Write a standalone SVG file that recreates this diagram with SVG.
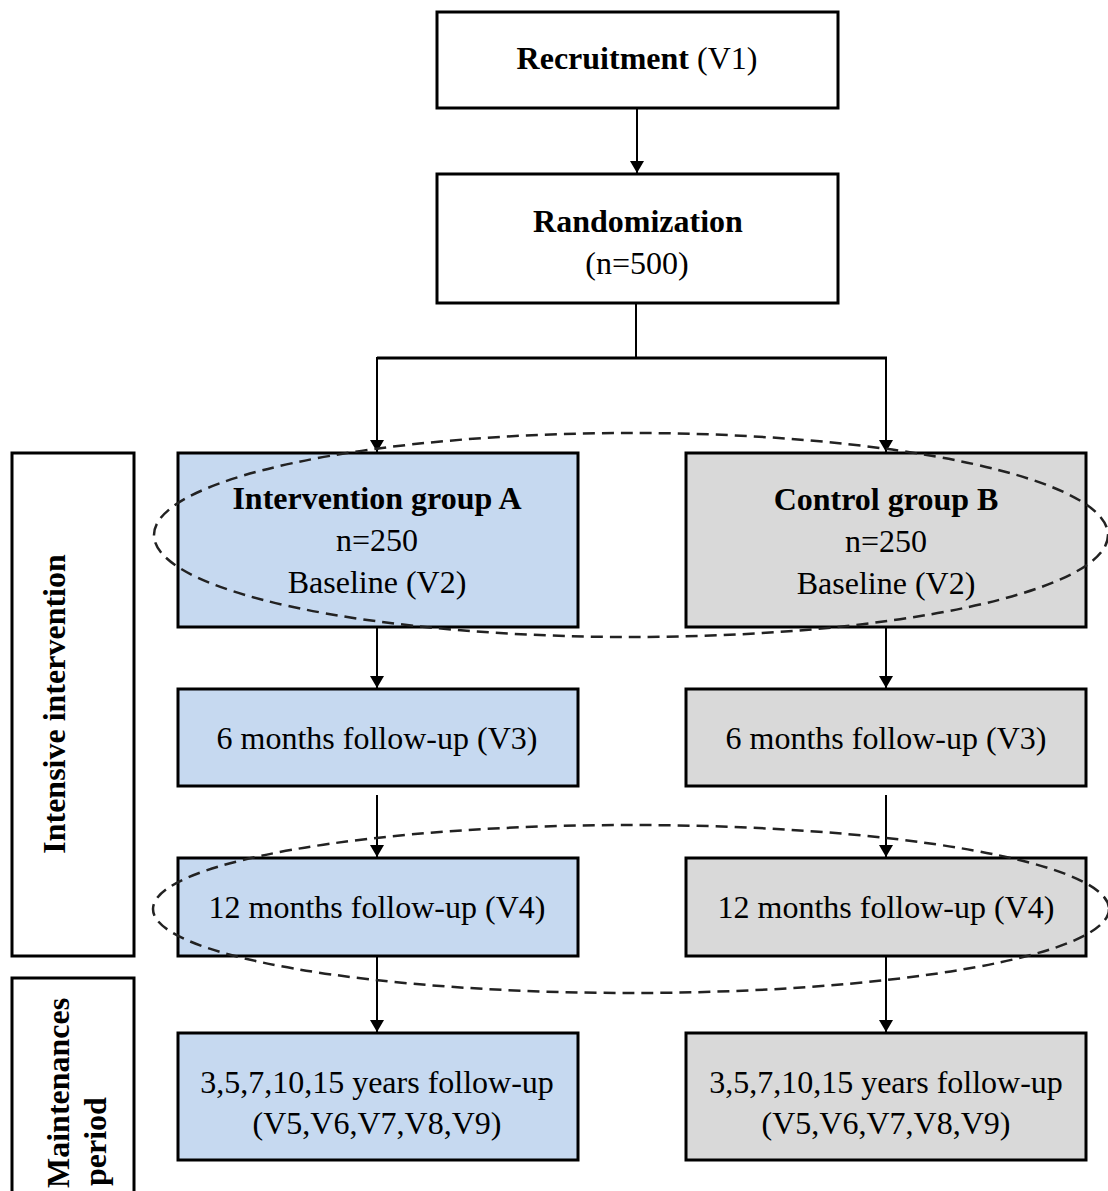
<svg xmlns="http://www.w3.org/2000/svg" width="1108" height="1191" viewBox="0 0 1108 1191">
<defs>
<style>
.box{stroke:#000;stroke-width:3}
.w{fill:#fff}
.a{fill:#C6D9F0}
.b{fill:#D9D9D9}
.t{font-family:"Liberation Serif","Times New Roman",serif;font-size:32px;fill:#000;text-anchor:middle}
.bd{font-weight:bold}
.ln{stroke:#000;stroke-width:2;fill:none}
.el{stroke:#222;stroke-width:2.5;fill:none;stroke-dasharray:12 7}
</style>
<marker id="ah" viewBox="0 0 12 14" refX="12" refY="7" markerWidth="12" markerHeight="14" markerUnits="userSpaceOnUse" orient="auto">
<path d="M0,0 L12,7 L0,14 Z" fill="#000"/>
</marker>
</defs>
<rect width="1108" height="1191" fill="#fff"/>

<g id="label-intensive">
<rect class="box w" x="12" y="453" width="122" height="503"/>
<text class="t bd" transform="translate(65,704) rotate(-90)">Intensive intervention</text>
</g>
<g id="label-maintenance">
<rect class="box w" x="12" y="978" width="122" height="230"/>
<text class="t bd" style="text-anchor:start" transform="translate(69,1188) rotate(-90)">Maintenances</text>
<text class="t bd" style="text-anchor:start" transform="translate(106,1186) rotate(-90)">period</text>
</g>

<g id="recruitment">
<rect class="box w" x="437" y="12" width="401" height="96"/>
<text class="t" x="637" y="69"><tspan class="bd">Recruitment</tspan> (V1)</text>
</g>
<g id="randomization">
<rect class="box w" x="437" y="174" width="401" height="129"/>
<text class="t bd" x="638" y="232">Randomization</text>
<text class="t" x="637" y="274">(n=500)</text>
</g>

<g id="groupA">
<rect class="box a" x="178" y="453" width="400" height="174"/>
<text class="t bd" x="377" y="509">Intervention group A</text>
<text class="t" x="377" y="551">n=250</text>
<text class="t" x="377" y="593">Baseline (V2)</text>
</g>
<g id="groupB">
<rect class="box b" x="686" y="453" width="400" height="174"/>
<text class="t bd" x="886" y="510">Control group B</text>
<text class="t" x="886" y="552">n=250</text>
<text class="t" x="886" y="594">Baseline (V2)</text>
</g>

<g id="A-6m">
<rect class="box a" x="178" y="689" width="400" height="97"/>
<text class="t" x="377" y="749">6 months follow-up (V3)</text>
</g>
<g id="B-6m">
<rect class="box b" x="686" y="689" width="400" height="97"/>
<text class="t" x="886" y="749">6 months follow-up (V3)</text>
</g>

<g id="A-12m">
<rect class="box a" x="178" y="858" width="400" height="98"/>
<text class="t" x="377" y="918">12 months follow-up (V4)</text>
</g>
<g id="B-12m">
<rect class="box b" x="686" y="858" width="400" height="98"/>
<text class="t" x="886" y="918">12 months follow-up (V4)</text>
</g>

<g id="A-years">
<rect class="box a" x="178" y="1033" width="400" height="127"/>
<text class="t" x="377" y="1093">3,5,7,10,15 years follow-up</text>
<text class="t" x="377" y="1134">(V5,V6,V7,V8,V9)</text>
</g>
<g id="B-years">
<rect class="box b" x="686" y="1033" width="400" height="127"/>
<text class="t" x="886" y="1093">3,5,7,10,15 years follow-up</text>
<text class="t" x="886" y="1134">(V5,V6,V7,V8,V9)</text>
</g>

<g id="connectors">
<line class="ln" x1="637" y1="108" x2="637" y2="173" marker-end="url(#ah)"/>
<line class="ln" x1="636" y1="303" x2="636" y2="358"/>
<line class="ln" x1="377" y1="358" x2="887" y2="358" style="stroke-width:3"/>
<line class="ln" x1="377" y1="357" x2="377" y2="452" marker-end="url(#ah)"/>
<line class="ln" x1="886" y1="357" x2="886" y2="452" marker-end="url(#ah)"/>
<line class="ln" x1="377" y1="627" x2="377" y2="688" marker-end="url(#ah)"/>
<line class="ln" x1="886" y1="627" x2="886" y2="688" marker-end="url(#ah)"/>
<line class="ln" x1="377" y1="795" x2="377" y2="857" marker-end="url(#ah)"/>
<line class="ln" x1="886" y1="795" x2="886" y2="857" marker-end="url(#ah)"/>
<line class="ln" x1="377" y1="956" x2="377" y2="1032" marker-end="url(#ah)"/>
<line class="ln" x1="886" y1="956" x2="886" y2="1032" marker-end="url(#ah)"/>
</g>

<g id="groupings">
<ellipse class="el" cx="631" cy="535" rx="477" ry="102"/>
<ellipse class="el" cx="631" cy="909" rx="478" ry="84"/>
</g>
</svg>
